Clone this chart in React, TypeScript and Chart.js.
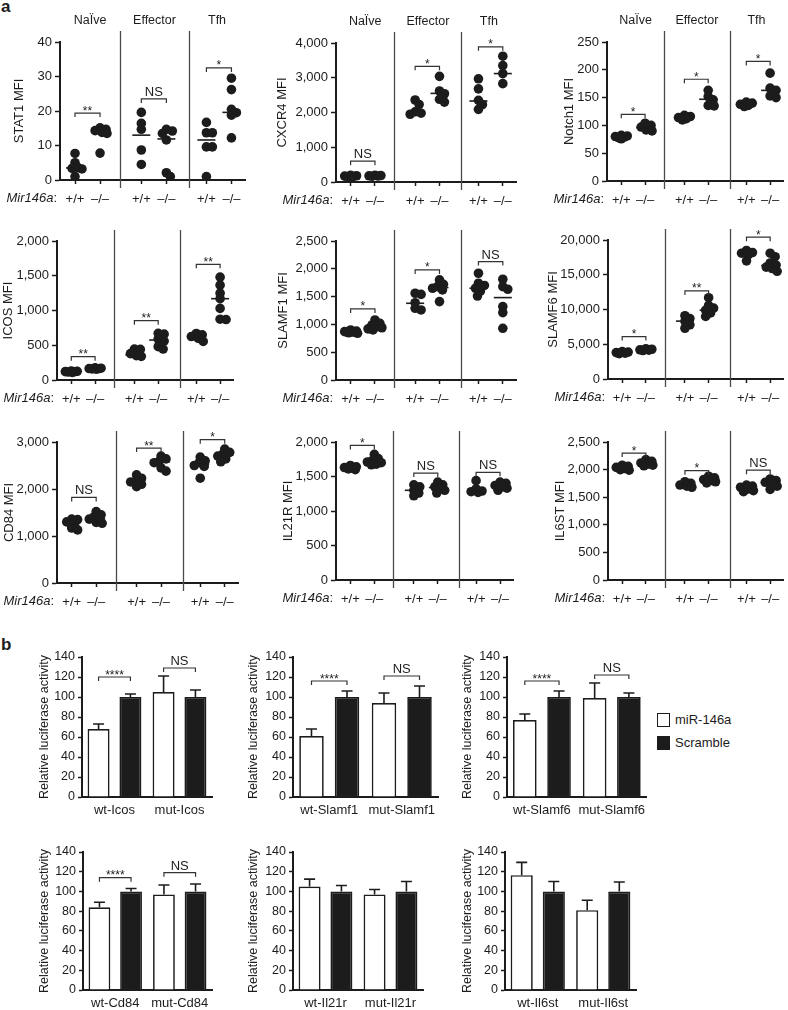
import React, { useEffect, useRef } from 'react';
import { Chart, registerables } from 'chart.js';
Chart.register(...registerables);

const FONT = "'Liberation Sans', Arial, Helvetica, sans-serif";
const INK = '#1c1c1c';
Chart.defaults.font.family = FONT;

// ---------- section a: shared axis structure ----------
const GROUPS = ['NaÏve', 'Effector', 'Tfh'];
const GENOTYPES = ['+/+', '–/–'];
const X_POS = [0.6, 1.6, 3.25, 4.25, 5.85, 6.85];
const X_SEPS = [2.4, 5.15];
const X_MAX = 7.4;

// ---------- section a data (groups: Naive +/+, Naive -/-, Effector +/+, Effector -/-, Tfh +/+, Tfh -/-) ----------
const STAT1 = [[7.7, 5.0, 3.6, 3.4, 3.2, 1.0], [15.1, 14.7, 14.3, 13.8, 13.5, 7.8], [19.6, 16.4, 14.7, 8.7, 4.5], [14.7, 14.2, 13.5, 11.6, 2.1, 1.0], [16.7, 13.7, 13.7, 9.6, 9.6, 1.0], [29.5, 26.2, 20.5, 19.5, 18.8, 12.2]];
const STAT1_MED = [3.5, 14.0, 13.0, 11.9, 11.6, 19.6];
const STAT1_SIG = ['**', 'NS', '*'];
const STAT1_BR = [19.4, 23.5, 32.5];

const CXCR4 = [[190, 180, 170, 165, 160, 150], [195, 185, 178, 172, 165], [2360, 2230, 2020, 1980, 1950], [3040, 2620, 2540, 2380, 2300], [2970, 2680, 2350, 2230, 2090], [3620, 3350, 3120, 2830]];
const CXCR4_MED = [170, 175, 2000, 2550, 2330, 3120];
const CXCR4_SIG = ['NS', '*', '*'];
const CXCR4_BR = [600, 3330, 3890];

const NOTCH1 = [[82, 81, 80, 79, 78, 76], [104, 100, 97, 92, 90], [118, 116, 114, 112, 110], [163, 152, 146, 136, 135], [142, 140, 138, 136, 134], [194, 167, 163, 153, 150]];
const NOTCH1_MED = [80, 96, 114, 147, 139, 163];
const NOTCH1_SIG = ['*', '*', '*'];
const NOTCH1_BR = [120, 183, 215];

const ICOS = [[130, 125, 120, 118, 115, 110], [175, 170, 165, 162, 160, 155], [440, 445, 380, 350, 340], [672, 660, 590, 560, 480, 445], [670, 650, 625, 600, 555], [1480, 1365, 1250, 1170, 1030, 875, 870]];
const ICOS_MED = [120, 165, 360, 575, 625, 1170];
const ICOS_SIGS = ['**', '**', '**'];
const ICOS_BRS = [336, 853, 1664];

const SLAMF1 = [[900, 880, 870, 860, 850, 840], [1080, 1020, 990, 960, 940, 920, 900], [1560, 1540, 1390, 1290, 1260], [1800, 1720, 1680, 1650, 1620, 1410], [1920, 1740, 1700, 1650, 1600, 1510], [1812, 1680, 1632, 1320, 1212, 930]];
const SLAMF1_MED = [865, 972, 1380, 1662, 1650, 1482];
const SLAMF1_SIGS = ['*', '*', 'NS'];
const SLAMF1_BRS = [1278, 1980, 2130];

const SLAMF6 = [[3950, 3880, 3800, 3720, 3650], [4350, 4280, 4200, 4150, 4100], [9100, 8700, 8300, 7800, 7300], [11700, 10600, 10200, 9900, 9500, 9000], [18500, 18200, 18100, 17900, 17000], [18100, 17600, 16700, 16400, 16100, 15900, 15500]];
const SLAMF6_MED = [3800, 4200, 8330, 9900, 18140, 16330];
const SLAMF6_SIGS = ['*', '**', '*'];
const SLAMF6_BRS = [6100, 12670, 20400];

const CD84 = [[1360, 1350, 1300, 1270, 1170, 1130], [1520, 1450, 1410, 1360, 1290, 1270], [2300, 2230, 2180, 2150, 2100, 2050], [2700, 2640, 2590, 2560, 2450, 2380], [2680, 2600, 2560, 2500, 2480, 2230], [2850, 2780, 2740, 2700, 2640, 2580]];
const CD84_MED = [1286, 1364, 2180, 2580, 2530, 2730];
const CD84_SIGS = ['NS', '**', '*'];
const CD84_BRS = [1820, 2870, 3050];

const IL21R = [[1660, 1640, 1630, 1620, 1610, 1600], [1820, 1760, 1730, 1710, 1700, 1680, 1670], [1380, 1350, 1300, 1260, 1220], [1420, 1380, 1350, 1330, 1300, 1260], [1440, 1320, 1290, 1280, 1270], [1420, 1400, 1370, 1350, 1330, 1300]];
const IL21R_MED = [1630, 1710, 1300, 1340, 1290, 1360];
const IL21R_SIGS = ['*', 'NS', 'NS'];
const IL21R_BRS = [1950, 1550, 1560];

const IL6ST = [[2080, 2060, 2040, 2020, 2000, 1990], [2180, 2150, 2120, 2100, 2080, 2070], [1780, 1750, 1720, 1700, 1680], [1880, 1850, 1820, 1800, 1780, 1760], [1720, 1700, 1680, 1650, 1620, 1600], [1830, 1800, 1770, 1740, 1700, 1640]];
const IL6ST_MED = [2040, 2110, 1720, 1810, 1670, 1760];
const IL6ST_SIGS = ['*', '*', 'NS'];
const IL6ST_BRS = [2300, 1980, 1990];

// ---------- section b data ----------
const LEGEND = ['miR-146a', 'Scramble'];

const LUC_ICOS_CATS = ['wt-Icos', 'mut-Icos'];
const LUC_ICOS_MIR = [68, 105];
const LUC_ICOS_MIR_ERR = [5, 16];
const LUC_ICOS_SCR = [100, 100];
const LUC_ICOS_SCR_ERR = [3, 7];
const LUC_ICOS_SIG = ['****', 'NS'];
const LUC_ICOS_BR = [120, 129];

const LUC_SLAMF1_CATS = ['wt-Slamf1', 'mut-Slamf1'];
const LUC_SLAMF1_MIR = [61, 94];
const LUC_SLAMF1_MIR_ERR = [7, 10];
const LUC_SLAMF1_SCR = [100, 100];
const LUC_SLAMF1_SCR_ERR = [6, 11];
const LUC_SLAMF1_SIG = ['****', 'NS'];
const LUC_SLAMF1_BR = [116, 121];

const LUC_SLAMF6_CATS = ['wt-Slamf6', 'mut-Slamf6'];
const LUC_SLAMF6_MIR = [77, 99];
const LUC_SLAMF6_MIR_ERR = [6, 15];
const LUC_SLAMF6_SCR = [100, 100];
const LUC_SLAMF6_SCR_ERR = [6, 4];
const LUC_SLAMF6_SIG = ['****', 'NS'];
const LUC_SLAMF6_BR = [116, 122];

const LUC_CD84_CATS = ['wt-Cd84', 'mut-Cd84'];
const LUC_CD84_MIR = [84, 97];
const LUC_CD84_MIR_ERR = [5, 9.5];
const LUC_CD84_SCR = [100, 100];
const LUC_CD84_SCR_ERR = [3, 7.5];
const LUC_CD84_SIG = ['****', 'NS'];
const LUC_CD84_BR = [114, 119];

const LUC_IL21R_CATS = ['wt-Il21r', 'mut-Il21r'];
const LUC_IL21R_MIR = [105, 97];
const LUC_IL21R_MIR_ERR = [7.5, 5];
const LUC_IL21R_SCR = [100, 100];
const LUC_IL21R_SCR_ERR = [6, 10];

const LUC_IL6ST_CATS = ['wt-Il6st', 'mut-Il6st'];
const LUC_IL6ST_MIR = [116.5, 81];
const LUC_IL6ST_MIR_ERR = [13, 10];
const LUC_IL6ST_SCR = [100, 100];
const LUC_IL6ST_SCR_ERR = [10, 9.5];

const LUC_TITLE = 'Relative luciferase activity';

// ---------- layout ----------
type SP = { title: string; values: number[][]; med: number[]; sig: string[]; br: number[]; yMax: number; step: number; area: number[]; titleX: number; headers: boolean };
const SCATTER_PANELS: SP[] = [
  { title: 'STAT1 MFI', values: STAT1, med: STAT1_MED, sig: STAT1_SIG, br: STAT1_BR, yMax: 40, step: 10, area: [60, 42, 247, 180], titleX: 19, headers: true },
  { title: 'CXCR4 MFI', values: CXCR4, med: CXCR4_MED, sig: CXCR4_SIG, br: CXCR4_BR, yMax: 4000, step: 1000, area: [336, 43, 518, 182], titleX: 282, headers: true },
  { title: 'Notch1 MFI', values: NOTCH1, med: NOTCH1_MED, sig: NOTCH1_SIG, br: NOTCH1_BR, yMax: 250, step: 50, area: [607, 42, 785, 181], titleX: 569, headers: true },
  { title: 'ICOS MFI', values: ICOS, med: ICOS_MED, sig: ICOS_SIGS, br: ICOS_BRS, yMax: 2000, step: 500, area: [57, 241, 235, 380], titleX: 8, headers: false },
  { title: 'SLAMF1 MFI', values: SLAMF1, med: SLAMF1_MED, sig: SLAMF1_SIGS, br: SLAMF1_BRS, yMax: 2500, step: 500, area: [336, 241, 518, 380], titleX: 283, headers: false },
  { title: 'SLAMF6 MFI', values: SLAMF6, med: SLAMF6_MED, sig: SLAMF6_SIGS, br: SLAMF6_BRS, yMax: 20000, step: 5000, area: [608, 240, 785, 379], titleX: 553, headers: false },
  { title: 'CD84 MFI', values: CD84, med: CD84_MED, sig: CD84_SIGS, br: CD84_BRS, yMax: 3000, step: 1000, area: [57, 442, 240, 583], titleX: 9, headers: false },
  { title: 'IL21R MFI', values: IL21R, med: IL21R_MED, sig: IL21R_SIGS, br: IL21R_BRS, yMax: 2000, step: 500, area: [336, 442, 515, 580], titleX: 288, headers: false },
  { title: 'IL6ST MFI', values: IL6ST, med: IL6ST_MED, sig: IL6ST_SIGS, br: IL6ST_BRS, yMax: 2500, step: 500, area: [608, 442, 785, 580], titleX: 560, headers: false },
];

type BP = { cats: string[]; mir: number[]; mirErr: number[]; scr: number[]; scrErr: number[]; sig: string[]; br: number[]; area: number[]; titleX: number };
const BAR_PANELS: BP[] = [
  { cats: LUC_ICOS_CATS, mir: LUC_ICOS_MIR, mirErr: LUC_ICOS_MIR_ERR, scr: LUC_ICOS_SCR, scrErr: LUC_ICOS_SCR_ERR, sig: LUC_ICOS_SIG, br: LUC_ICOS_BR, area: [82, 657, 212, 797], titleX: 45 },
  { cats: LUC_SLAMF1_CATS, mir: LUC_SLAMF1_MIR, mirErr: LUC_SLAMF1_MIR_ERR, scr: LUC_SLAMF1_SCR, scrErr: LUC_SLAMF1_SCR_ERR, sig: LUC_SLAMF1_SIG, br: LUC_SLAMF1_BR, area: [293, 657, 438, 797], titleX: 254 },
  { cats: LUC_SLAMF6_CATS, mir: LUC_SLAMF6_MIR, mirErr: LUC_SLAMF6_MIR_ERR, scr: LUC_SLAMF6_SCR, scrErr: LUC_SLAMF6_SCR_ERR, sig: LUC_SLAMF6_SIG, br: LUC_SLAMF6_BR, area: [507, 657, 648, 797], titleX: 468 },
  { cats: LUC_CD84_CATS, mir: LUC_CD84_MIR, mirErr: LUC_CD84_MIR_ERR, scr: LUC_CD84_SCR, scrErr: LUC_CD84_SCR_ERR, sig: LUC_CD84_SIG, br: LUC_CD84_BR, area: [83, 852, 212, 990], titleX: 45 },
  { cats: LUC_IL21R_CATS, mir: LUC_IL21R_MIR, mirErr: LUC_IL21R_MIR_ERR, scr: LUC_IL21R_SCR, scrErr: LUC_IL21R_SCR_ERR, sig: [], br: [], area: [293, 852, 423, 990], titleX: 254 },
  { cats: LUC_IL6ST_CATS, mir: LUC_IL6ST_MIR, mirErr: LUC_IL6ST_MIR_ERR, scr: LUC_IL6ST_SCR, scrErr: LUC_IL6ST_SCR_ERR, sig: [], br: [], area: [505, 852, 636, 990], titleX: 468 },
];

function swarm(vals: number[], pxY: number) {
  const MIN = 5.5, MAXOFF = 7;
  const out: { v: number; dx: number; py: number }[] = [];
  [...vals].sort((a, b) => b - a).forEach((v) => {
    const py = v * pxY;
    let chosen = 0;
    let best = -1;
    let done = false;
    for (let k = 0; k <= MAXOFF && !done; k++) {
      const cands = k === 0 ? [0] : [k, -k];
      for (const s of cands) {
        const dmin = out.reduce((m, o) => Math.min(m, Math.hypot(o.dx - s, o.py - py)), Infinity);
        if (dmin >= MIN) { chosen = s; done = true; break; }
        if (dmin > best) { best = dmin; chosen = s; }
      }
    }
    out.push({ v, dx: chosen, py });
  });
  return out;
}

function drawBracket(ctx: CanvasRenderingContext2D, x1: number, x2: number, y: number, text: string) {
  ctx.save();
  ctx.strokeStyle = '#333';
  ctx.lineWidth = 1.2;
  ctx.beginPath();
  ctx.moveTo(x1, y + 4);
  ctx.lineTo(x1, y);
  ctx.lineTo(x2, y);
  ctx.lineTo(x2, y + 4);
  ctx.stroke();
  ctx.fillStyle = INK;
  ctx.textAlign = 'center';
  ctx.textBaseline = 'alphabetic';
  if (text === 'NS') {
    ctx.font = `13px ${FONT}`;
    ctx.fillText(text, (x1 + x2) / 2, y - 3);
  } else {
    ctx.font = `12px ${FONT}`;
    ctx.fillText(text, (x1 + x2) / 2, y + 1.5);
  }
  ctx.restore();
}

function ScatterChart({ p }: { p: SP }) {
  const ref = useRef<HTMLCanvasElement>(null);
  const [l, t, r, b] = p.area;
  const cl = Math.max(0, Math.min(l - 62, p.titleX - 10));
  const ct = t - 34;
  const cr = r + 3;
  const cb = b + 30;
  useEffect(() => {
    const canvas = ref.current!;
    const pxX = (r - l) / X_MAX;
    const pxY = (b - t) / p.yMax;
    const points: { x: number; y: number }[] = [];
    p.values.forEach((vals, gi) => {
      swarm(vals, pxY).forEach((o) => points.push({ x: X_POS[gi] + o.dx / pxX, y: o.v }));
    });
    const deco = {
      id: 'deco',
      afterDatasetsDraw(chart: any) {
        const ctx: CanvasRenderingContext2D = chart.ctx;
        const { left, top, right, bottom } = chart.chartArea;
        const xs = chart.scales.x;
        const ys = chart.scales.y;
        ctx.save();
        ctx.strokeStyle = '#4a4a4a';
        ctx.lineWidth = 1.3;
        X_SEPS.forEach((s) => {
          const px = Math.round(xs.getPixelForValue(s)) + 0.5;
          ctx.beginPath();
          ctx.moveTo(px, top - 11);
          ctx.lineTo(px, bottom + 8);
          ctx.stroke();
        });
        ctx.strokeStyle = INK;
        ctx.lineWidth = 1.6;
        p.med.forEach((m, gi) => {
          const cx = xs.getPixelForValue(X_POS[gi]);
          const py = ys.getPixelForValue(m);
          ctx.beginPath();
          ctx.moveTo(cx - 9, py);
          ctx.lineTo(cx + 9, py);
          ctx.stroke();
        });
        p.sig.forEach((s, k) => {
          drawBracket(ctx, xs.getPixelForValue(X_POS[2 * k]), xs.getPixelForValue(X_POS[2 * k + 1]), ys.getPixelForValue(p.br[k]), s);
        });
        ctx.fillStyle = INK;
        if (p.headers) {
          const bounds = [left, xs.getPixelForValue(X_SEPS[0]), xs.getPixelForValue(X_SEPS[1]), right];
          ctx.font = `12.5px ${FONT}`;
          ctx.textAlign = 'center';
          ctx.textBaseline = 'middle';
          GROUPS.forEach((g, i) => ctx.fillText(g, (bounds[i] + bounds[i + 1]) / 2, top - 21));
        }
        ctx.save();
        ctx.translate(p.titleX - cl, (top + bottom) / 2);
        ctx.rotate(-Math.PI / 2);
        ctx.font = `13px ${FONT}`;
        ctx.textAlign = 'center';
        ctx.textBaseline = 'middle';
        ctx.fillText(p.title, 0, 0);
        ctx.restore();
        ctx.textBaseline = 'top';
        ctx.textAlign = 'right';
        ctx.font = `13px ${FONT}`;
        const cw = ctx.measureText(':').width;
        ctx.fillText(':', left - 3, bottom + 12);
        ctx.font = `italic 13px ${FONT}`;
        ctx.fillText('Mir146a', left - 3 - cw, bottom + 12);
        ctx.restore();
      },
    };
    const chart = new Chart(canvas, {
      type: 'scatter',
      data: { datasets: [{ data: points, pointRadius: 4.8, pointBackgroundColor: INK, pointBorderWidth: 0, pointHoverRadius: 4.8 }] },
      options: {
        animation: false,
        responsive: false,
        maintainAspectRatio: false,
        events: [],
        layout: { padding: { left: 0, top: t - ct, right: cr - r, bottom: 0 } },
        plugins: { legend: { display: false }, tooltip: { enabled: false } },
        scales: {
          x: {
            type: 'linear',
            min: 0,
            max: X_MAX,
            afterBuildTicks: (s: any) => { s.ticks = X_POS.map((v) => ({ value: v })); },
            afterFit: (s: any) => { s.height = cb - b; },
            ticks: { callback: (_v: any, i: number) => GENOTYPES[i % 2], font: { size: 13 }, color: INK, padding: 8, maxRotation: 0, minRotation: 0, autoSkip: false },
            grid: { drawOnChartArea: false, tickLength: 4, tickColor: INK, tickWidth: 1.5 },
            border: { color: INK, width: 2 },
          },
          y: {
            min: 0,
            max: p.yMax,
            afterFit: (s: any) => { s.width = l - cl; },
            ticks: { stepSize: p.step, callback: (v: any) => Number(v).toLocaleString('en-US'), font: { size: 13 }, color: INK, padding: 3 },
            grid: { drawOnChartArea: false, tickLength: 5, tickColor: INK, tickWidth: 1.5 },
            border: { color: INK, width: 2 },
          },
        },
      },
      plugins: [deco],
    } as any);
    return () => chart.destroy();
  }, []);
  return <canvas ref={ref} width={cr - cl} height={cb - ct} style={{ position: 'absolute', left: cl, top: ct, width: cr - cl, height: cb - ct }} />;
}

function BarChart({ p }: { p: BP }) {
  const ref = useRef<HTMLCanvasElement>(null);
  const [l, t, r, b] = p.area;
  const cl = p.titleX - 10;
  const ct = t - 16;
  const cr = r + 4;
  const cb = b + 22;
  useEffect(() => {
    const canvas = ref.current!;
    const deco = {
      id: 'decoBar',
      afterDatasetsDraw(chart: any) {
        const ctx: CanvasRenderingContext2D = chart.ctx;
        const { top, bottom } = chart.chartArea;
        const ys = chart.scales.y;
        ctx.save();
        ctx.strokeStyle = INK;
        ctx.lineWidth = 1.6;
        const series = [[p.mir, p.mirErr], [p.scr, p.scrErr]];
        series.forEach(([vals, errs], di) => {
          const meta = chart.getDatasetMeta(di);
          meta.data.forEach((el: any, i: number) => {
            const yTop = ys.getPixelForValue(vals[i] + errs[i]);
            ctx.beginPath();
            ctx.moveTo(el.x, el.y);
            ctx.lineTo(el.x, yTop);
            ctx.moveTo(el.x - 5.5, yTop);
            ctx.lineTo(el.x + 5.5, yTop);
            ctx.stroke();
          });
        });
        const m0 = chart.getDatasetMeta(0);
        const m1 = chart.getDatasetMeta(1);
        p.sig.forEach((s, k) => {
          drawBracket(ctx, m0.data[k].x, m1.data[k].x, ys.getPixelForValue(p.br[k]), s);
        });
        ctx.fillStyle = INK;
        ctx.translate(p.titleX - cl, (top + bottom) / 2);
        ctx.rotate(-Math.PI / 2);
        ctx.font = `12.5px ${FONT}`;
        ctx.textAlign = 'center';
        ctx.textBaseline = 'middle';
        ctx.fillText(LUC_TITLE, 0, 0);
        ctx.restore();
      },
    };
    const chart = new Chart(canvas, {
      type: 'bar',
      data: {
        labels: p.cats,
        datasets: [
          { label: LEGEND[0], data: p.mir, backgroundColor: '#ffffff', borderColor: INK, borderWidth: 1.7 },
          { label: LEGEND[1], data: p.scr, backgroundColor: INK, borderColor: INK, borderWidth: 1.7 },
        ],
      },
      options: {
        animation: false,
        responsive: false,
        maintainAspectRatio: false,
        events: [],
        categoryPercentage: 0.98,
        barPercentage: 0.69,
        layout: { padding: { left: 0, top: t - ct, right: cr - r, bottom: 0 } },
        plugins: { legend: { display: false }, tooltip: { enabled: false } },
        scales: {
          x: {
            afterFit: (s: any) => { s.height = cb - b; },
            ticks: { font: { size: 13 }, color: INK, padding: 6, maxRotation: 0, minRotation: 0, autoSkip: false },
            grid: { drawOnChartArea: false, drawTicks: false },
            border: { color: INK, width: 2 },
          },
          y: {
            min: 0,
            max: 140,
            afterFit: (s: any) => { s.width = l - cl; },
            ticks: { stepSize: 20, font: { size: 12.5 }, color: INK, padding: 3 },
            grid: { drawOnChartArea: false, tickLength: 4, tickColor: INK, tickWidth: 1.5 },
            border: { color: INK, width: 2 },
          },
        },
      },
      plugins: [deco],
    } as any);
    return () => chart.destroy();
  }, []);
  return <canvas ref={ref} width={cr - cl} height={cb - ct} style={{ position: 'absolute', left: cl, top: ct, width: cr - cl, height: cb - ct }} />;
}

const letter = (top: number): React.CSSProperties => ({ position: 'absolute', left: 1, top, font: `bold 17px ${FONT}`, lineHeight: '17px', color: INK });

export default function App() {
  return (
    <div style={{ position: 'absolute', left: 0, top: 0, width: 788, height: 1010, background: '#fff', overflow: 'hidden', fontFamily: FONT, color: INK }}>
      <div style={letter(-2)}>a</div>
      <div style={letter(636)}>b</div>
      {SCATTER_PANELS.map((p, i) => <ScatterChart key={'s' + i} p={p} />)}
      {BAR_PANELS.map((p, i) => <BarChart key={'b' + i} p={p} />)}
      {LEGEND.map((name, i) => (
        <div key={name} style={{ position: 'absolute', left: 657, top: 713 + i * 23, height: 14, display: 'flex', alignItems: 'center' }}>
          <div style={{ width: 13, height: 14, boxSizing: 'border-box', border: `1.7px solid ${INK}`, background: i === 0 ? '#fff' : INK }} />
          <span style={{ marginLeft: 5, fontSize: 13, lineHeight: '14px', whiteSpace: 'nowrap' }}>{name}</span>
        </div>
      ))}
    </div>
  );
}
